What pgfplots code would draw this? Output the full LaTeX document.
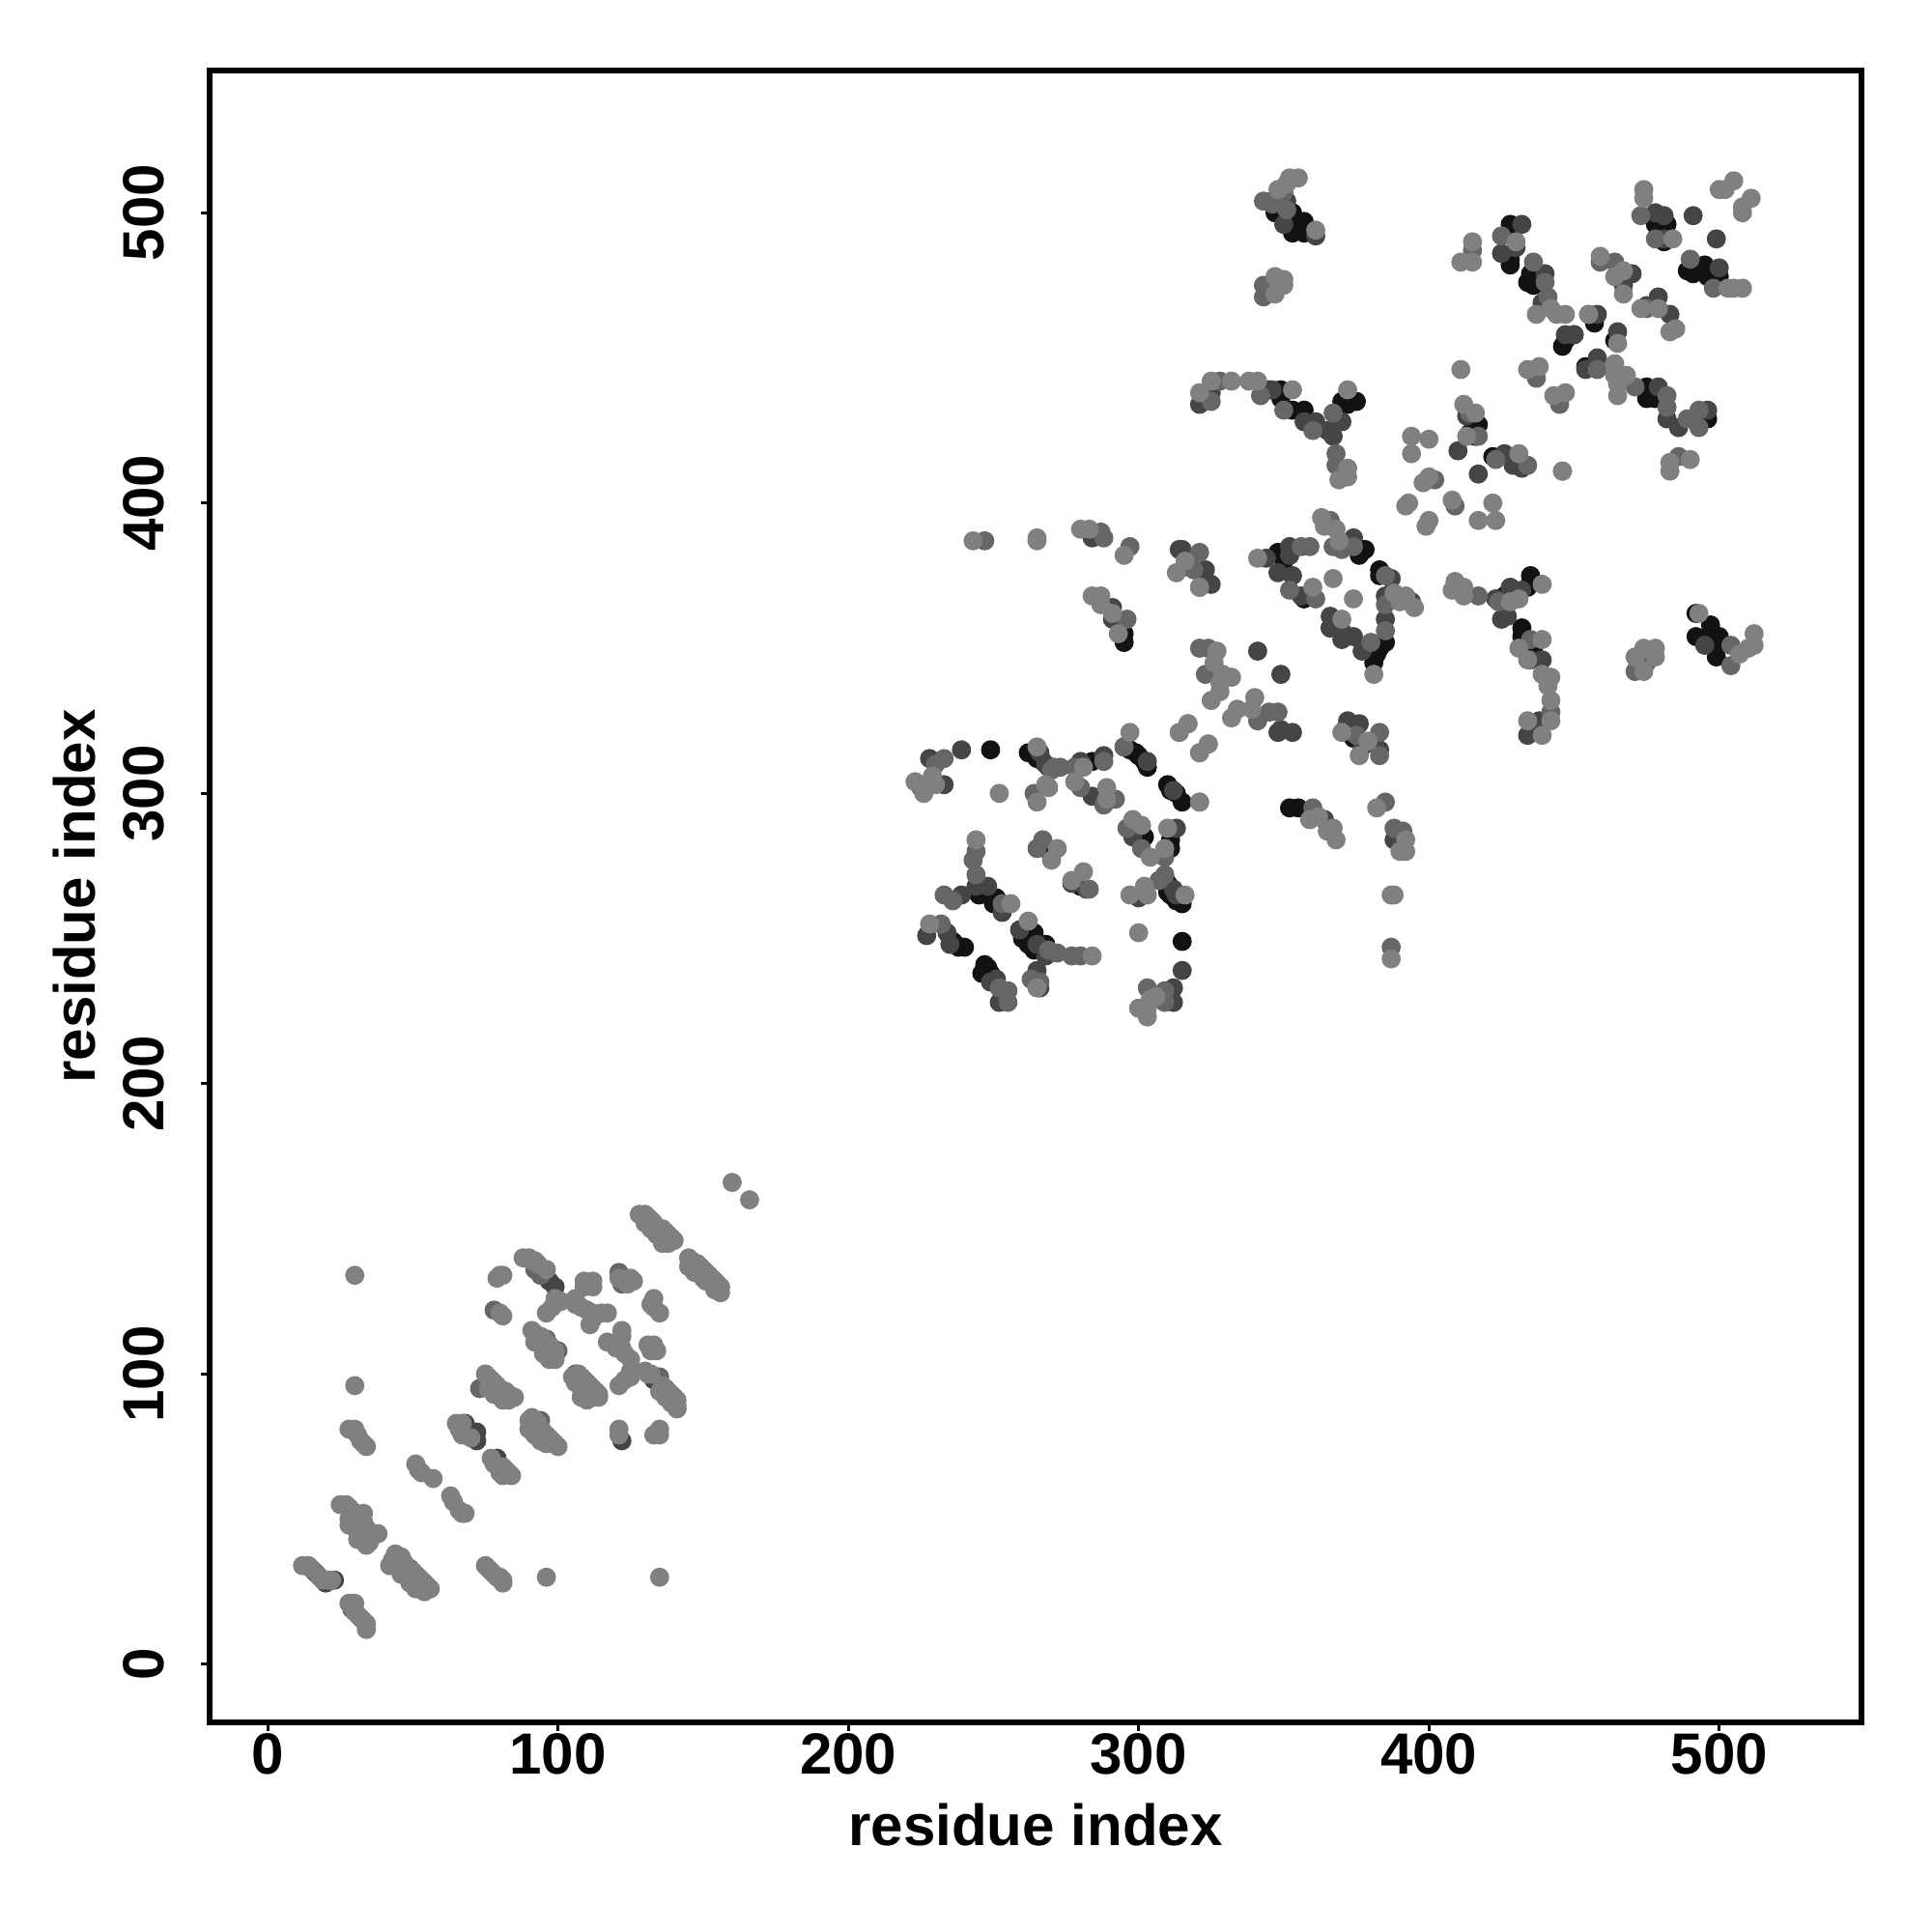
\documentclass[border=0pt]{standalone}
\usepackage{fontspec}
\setmainfont{Liberation Sans}
\usepackage{pgfplots}
\pgfplotsset{compat=1.18}
\definecolor{gA}{gray}{0.50}
\definecolor{gB}{gray}{0.40}
\definecolor{gC}{gray}{0.27}
\definecolor{gD}{gray}{0.07}
\newcommand{\lblfont}{\fontsize{17.1}{20}\selectfont\bfseries}
\begin{document}
\begin{tikzpicture}[x=1mm,y=1mm]
\path[use as bounding box] (-21.7,-21.7) rectangle (178.3,178.3);
\begin{axis}[
  at={(0,0)},anchor=south west,
  scale only axis,width=171mm,height=171mm,
  xmin=-20,xmax=549,ymin=-20,ymax=549,
  xtick={0,100,200,300,400,500},ytick={0,100,200,300,400,500},
  tick align=outside,tick pos=left,
  major tick length=0.93mm,
  axis line style={line width=1.5pt},
  every tick/.style={black,line width=0.85pt},
  /pgf/number format/assume math mode=true,
  tick label style={font=\lblfont},
  xticklabel style={anchor=north,yshift=1.0mm},
  yticklabel style={rotate=90,anchor=south,yshift=2.5mm},
  xlabel={residue index},ylabel={residue index},
  label style={font=\lblfont},
  xlabel style={at={(axis description cs:0.5,0)},anchor=center,yshift=-10.6mm},
  ylabel style={at={(axis description cs:0,0.5)},anchor=center,rotate=0,yshift=14.0mm},
  clip=false,
]
% darkest layer
\addplot[gD,only marks,mark=*,mark size=0.92mm] coordinates {
(249,315)(262,314)(265,312)(267,311)(269,309)(284,311)(297,315)(300,313)(302,311)(303,309)(295,316)(299,314)
(310,303)(313,300)(315,297)(311,301)(245,265)(248,265)(251,264)(250,262)(247,267)(236,249)(238,247)(240,247)(237,248)
(247,241)(246,238)(249,238)(248,240)(260,250)(264,252)(264,246)(268,248)(262,248)(302,285)(268,281)(280,268)(311,284)(311,281)
(310,269)(310,266)(313,263)(315,262)(311,265)(315,249)
(347,500)(350,499)(353,500)(353,493)(357,497)(357,493)(351,497)(355,495)
(345,439)(349,439)(349,436)(353,432)(357,432)(370,435)(375,435)(372,434)
(428,496)(428,482)(435,479)(436,475)(446,454)(450,458)(447,456)(429,494)(428,484)(434,476)
(478,496)(482,496)(481,490)(479,493)(489,480)(495,482)(500,478)(496,478)(491,479)
(454,447)(457,462)(464,456)(475,440)(475,436)(478,436)(476,438)(493,429)(496,429)(491,429)
(417,427)(416,423)(422,416)(414,424)(348,383)(352,382)(350,380)(377,384)(378,384)(376,382)(357,367)(366,357)
(383,377)(383,375)(385,352)(382,348)(381,345)(383,350)(435,375)(434,371)(432,357)(432,354)(436,349)(433,351)
(492,362)(492,354)(497,358)(500,354)(499,347)(495,353)(498,351)(352,295)(355,295)(374,319)(437,322)
(426,368)(350,499)(295,355)(295,352)
};
% dark grey layer
\addplot[gC,only marks,mark=*,mark size=0.92mm] coordinates {
(228,312)(233,303)(239,315)(266,314)(268,310)(280,311)(288,313)(284,299)(303,311)(312,301)(244,268)(248,268)(253,259)
(239,265)(227,251)(234,252)(235,248)(251,236)(249,235)(252,228)(259,253)(265,248)(268,244)(265,239)(266,233)
(277,269)(282,267)(298,285)(300,264)(313,288)(312,267)(313,265)(315,239)(312,233)(312,228)
(314,384)(315,384)(323,377)(325,372)(344,381)(352,385)(352,382)(348,376)(353,375)(356,368)(374,388)(387,374)(385,368)(394,366)
(366,361)(366,357)(370,356)(370,353)(374,354)(377,349)(385,360)(341,349)(349,341)(349,322)(353,321)(348,321)
(372,325)(371,322)(376,324)(383,315)(377,316)(423,367)(428,371)(432,370)(427,361)(425,360)(435,346)(438,325)(434,320)
(495,351)(439,346)(346,504)(351,504)(350,496)(361,492)
(325,438)(321,434)(346,439)(357,428)(361,428)(365,425)(367,423)(370,428)(432,496)(425,486)(430,488)(440,479)(439,469)(447,458)(450,458)
(410,418)(413,430)(417,410)(426,417)(429,413)(432,412)(470,479)(467,475)(479,471)(475,468)(483,465)
(458,465)(465,459)(458,450)(454,446)(491,499)(499,491)(478,500)(481,499)(481,491)(500,481)(479,440)(482,429)(486,426)(496,432)
(364,291)(359,291)(388,284)
(72,77)(72,80)(69,81)(68,83)(122,77)(137,95)(135,97)(133,98)(99,130)(97,132)(95,134)(80,68)(79,71)(20,28)(23,29)
(284,388)(291,364)(291,360)
};
% mid grey layer
\addplot[gB,only marks,mark=*,mark size=0.92mm] coordinates {
(233,312)(230,310)(225,302)(270,308)(271,309)(273,309)(278,309)(288,311)(264,300)(280,302)(288,296)(292,298)(295,316)
(244,280)(243,277)(244,272)(253,262)(233,265)(236,263)(232,255)(252,233)(255,232)(255,228)(272,245)(269,246)(277,244)(280,244)
(263,236)(266,235)(267,284)(265,281)(283,267)(296,288)(301,281)(309,278)(309,272)(307,270)(303,233)(309,232)(309,228)
(321,383)(319,377)(321,371)(316,378)(359,385)(356,385)(352,370)(361,367)(366,394)(367,385)(374,385)(370,384)(385,375)(385,365)
(321,350)(324,350)(323,341)(385,356)(380,352)(345,328)(348,328)(341,325)(383,321)(375,320)(383,313)
(417,368)(424,366)(435,353)(442,328)(504,351)(504,344)(475,345)(471,342)(343,475)(343,471)(347,475)
(350,507)(343,504)(346,503)(351,501)(415,487)(425,492)(436,483)(440,476)(441,471)(437,443)(445,434)
(325,435)(328,442)(342,437)(350,432)(360,425)(367,431)(368,417)(368,413)(402,408)(409,399)
(414,431)(417,423)(423,415)(434,413)(446,411)(459,483)(464,483)(473,499)(478,491)(490,484)(498,474)(475,467)(458,446)(471,440)
(482,437)(482,433)(489,429)(493,432)(493,426)(486,416)(360,295)(385,297)(388,288)(391,287)(387,247)
(73,95)(84,92)(96,112)(135,99)(140,92)(121,135)(122,131)(78,122)(92,136)(94,134)(110,97)(106,100)(94,84)(29,21)(29,19)(49,33)(28,54)(31,51)(16,32)(17,31)
(132,153)(134,150)(146,139)(152,134)(154,132)(98,109)(100,108)(79,96)
(247,387)(287,390)(288,388)(297,385)(296,360)
};
% light grey layer
\addplot[gA,only marks,mark=*,mark size=0.92mm] coordinates {
(160,166)(166,160)(128,155)(130,155)(131,154)(133,152)(135,150)(136,150)(137,149)(138,148)(139,147)(140,146)(136,147)(137,146)(138,145)
(145,140)(147,138)(148,138)(149,137)(150,136)(151,135)(153,133)(155,131)(156,130)(156,128)(145,137)(147,135)(150,133)(153,131)
(130,152)(132,150)(134,148)(136,145)(148,135)(151,132)(154,129)
(88,140)(90,140)(91,139)(92,139)(93,138)(96,136)(80,134)(81,134)(79,133)(80,121)(81,120)
(109,132)(112,132)(109,130)(112,130)(99,126)(101,125)(96,121)(98,123)(106,126)(106,124)(108,123)(110,122)(112,121)(115,121)(117,121)(111,117)(112,119)
(121,133)(125,133)(126,132)(124,131)(133,126)(132,124)(135,121)(133,123)
(91,115)(92,114)(93,113)(94,113)(95,112)(96,110)(97,110)(99,108)(94,110)(96,108)(98,106)(99,105)(92,111)(95,107)(97,105)
(105,99)(107,100)(108,99)(109,98)(111,96)(112,95)(113,94)(114,93)(114,92)(106,97)(108,95)(110,93)(112,92)(108,92)(110,91)
(122,115)(122,113)(117,111)(120,109)(122,109)(123,107)(125,105)(131,110)(133,110)(132,108)(134,108)(121,96)(125,99)(123,98)(125,101)
(130,101)(131,100)(132,100)(136,96)(138,94)(139,93)(141,91)(141,88)(141,89)(135,94)(137,92)(139,90)
(75,100)(76,99)(77,98)(78,97)(80,95)(81,94)(82,94)(83,93)(85,92)(79,93)(81,91)(83,91)(76,95)(78,93)
(90,84)(91,85)(92,84)(93,83)(93,80)(95,80)(96,79)(97,78)(98,77)(99,76)(100,75)(90,81)(92,79)(94,77)(96,76)
(121,81)(121,79)(135,81)(133,79)(135,79)(65,83)(67,83)(66,81)(70,78)(67,79)
(77,71)(78,69)(81,68)(82,67)(83,66)(84,65)(81,65)(80,66)
(28,81)(30,81)(31,79)(32,77)(33,76)(34,75)(30,96)(30,134)(51,69)(52,67)(53,66)(57,64)(63,58)(64,56)(66,53)(67,52)(68,52)
(25,55)(27,55)(29,53)(30,52)(32,50)(33,49)(34,47)(33,45)(32,44)(34,43)(35,42)(36,44)(38,45)(34,41)(31,48)(33,52)(28,50)(30,47)(31,43)(28,48)
(44,38)(43,36)(42,34)(44,34)(45,33)(46,37)(47,35)(47,32)(48,31)(50,32)(51,31)(52,30)(53,29)(54,28)(55,27)(54,25)(56,26)(52,27)(50,29)(46,31)(49,28)(51,26)
(75,34)(76,33)(77,32)(78,31)(79,30)(80,30)(81,29)(81,28)(96,30)(135,30)
(12,34)(14,34)(15,33)(18,30)(19,29)(21,29)(22,29)(28,21)(30,21)(30,18)(31,17)(32,16)(33,15)(34,14)(34,12)
(223,304)(226,300)(228,304)(230,303)(229,306)(265,316)(252,300)(265,297)(268,303)(269,302)(278,304)(281,309)(289,302)(289,298)
(297,321)(321,297)(314,321)(317,324)(321,314)(324,317)(244,284)(256,262)(228,255)(262,256)(284,244)
(265,233)(272,281)(270,277)(277,270)(281,273)(298,291)(301,289)(304,278)(310,288)(309,281)(316,265)(302,268)(303,265)(297,265)
(300,252)(304,229)(300,226)(303,223)(303,226)(306,230)
(321,297)(359,291)(362,292)(367,288)(368,284)(365,287)(382,295)(392,284)(390,280)(392,280)(387,265)(388,265)(387,243)
(316,380)(313,376)(321,371)(341,381)(360,371)(367,374)(374,367)(363,395)(364,392)(368,391)(369,387)
(388,369)(392,368)(395,364)(390,366)(370,360)(327,349)(326,345)(329,341)(332,340)(328,338)(381,341)
(325,332)(328,335)(340,333)(339,329)(334,329)(332,326)(317,324)(314,321)(324,317)(321,314)
(370,321)(379,318)(376,313)(409,373)(412,371)(408,370)(412,368)(428,366)(431,367)(439,372)(439,353)(434,346)(431,350)
(439,341)(442,340)(441,337)(442,332)(442,325)(434,325)(439,320)
(512,355)(512,351)(510,350)(507,348)(478,350)(474,350)(471,347)(478,347)(474,342)(493,362)
(352,512)(355,512)(351,510)(348,508)(361,494)(350,477)(347,478)(350,475)(347,472)
(415,490)(411,483)(415,483)(430,490)(442,467)(447,465)(437,465)(444,465)(455,465)
(411,446)(434,446)(438,447)(443,437)(447,438)(321,438)(325,442)(332,442)(338,442)(341,442)(353,439)
(372,439)(372,412)(372,409)(369,408)(394,423)(400,422)(394,417)(400,409)(398,407)(393,400)(392,399)(408,401)(400,394)(399,392)
(417,394)(422,400)(423,394)(412,434)(416,431)(413,423)(431,417)(446,411)
(459,485)(467,480)(467,472)(464,478)(474,508)(474,505)(505,511)(500,508)(502,508)(511,505)(508,502)(508,500)(484,491)
(503,474)(505,474)(508,474)(473,467)(479,467)(485,460)(483,459)(455,465)(465,455)(464,448)(464,444)(468,444)(465,437)(465,441)
(483,411)(483,414)(490,415)
(243,387)(265,388)(265,387)(280,391)(283,391)(295,382)(284,368)(287,368)(287,365)(291,362)(293,355)
};
\end{axis}
\end{tikzpicture}
\end{document}
